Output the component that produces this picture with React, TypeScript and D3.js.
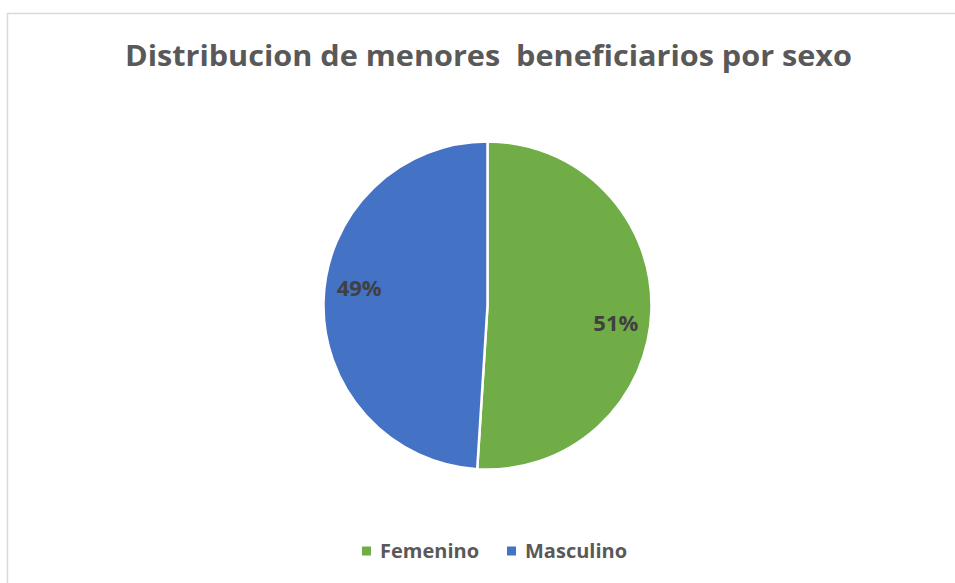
import React from "react";
import * as d3 from "d3";

const categories = ["Femenino", "Masculino"];
const values = [51, 49];
const colors = ["#70AD47", "#4472C4"];
const title = "Distribucion de menores  beneficiarios por sexo";

const W = 955;
const H = 583;

export default function App() {
  const cx = 487.5;
  const cy = 305.5;
  const r = 164;
  const pie = d3.pie<number>().sort(null).value((d) => d);
  const arcs = pie(values);
  const arcGen = d3.arc<d3.PieArcDatum<number>>().innerRadius(0).outerRadius(r);
  const total = d3.sum(values);
  const fmt = (v: number) => `${Math.round((v / total) * 100)}%`;
  const font = "'Open Sans', 'DejaVu Sans', sans-serif";

  const legendX = d3.scalePoint<string>().domain(categories).range([362, 507]);

  return (
    <svg
      width={W}
      height={H}
      style={{ position: "absolute", left: 0, top: 0, background: "#fff" }}
    >
      <rect x={0} y={0} width={W} height={H} fill="#fff" />
      <path d={`M7.5,${H} V13.5 H${W}`} fill="none" stroke="#d9d9d9" strokeWidth={1.5} />
      <text
        x={488.5}
        y={66}
        textAnchor="middle"
        fontFamily={font}
        fontWeight={700}
        fontSize={28}
        fill="#595959"
        textLength={727}
        lengthAdjust="spacingAndGlyphs"
        style={{ whiteSpace: "pre" }}
      >
        {title}
      </text>
      <g transform={`translate(${cx},${cy})`}>
        {arcs.map((a, i) => (
          <path key={i} d={arcGen(a) || ""} fill={colors[i]} stroke="#fff" strokeWidth={2.5} />
        ))}
        {arcs.map((a, i) => {
          const mid = (a.startAngle + a.endAngle) / 2 + (6 * Math.PI) / 180;
          const lr = r * 0.79;
          const x = lr * Math.sin(mid);
          const y = -lr * Math.cos(mid);
          return (
            <text
              key={i}
              x={x}
              y={y}
              dy="0.36em"
              textAnchor="middle"
              fontFamily={font}
              fontWeight={700}
              fontSize={22}
              fill="#404040"
            >
              {fmt(a.data)}
            </text>
          );
        })}
      </g>
      {categories.map((c, i) => (
        <g key={c} transform={`translate(${legendX(c)},0)`}>
          <rect x={0} y={546.5} width={9} height={9} fill={colors[i]} />
          <text
            x={18}
            y={557.5}
            fontFamily={font}
            fontWeight={700}
            fontSize={20}
            fill="#595959"
          >
            {c}
          </text>
        </g>
      ))}
    </svg>
  );
}
